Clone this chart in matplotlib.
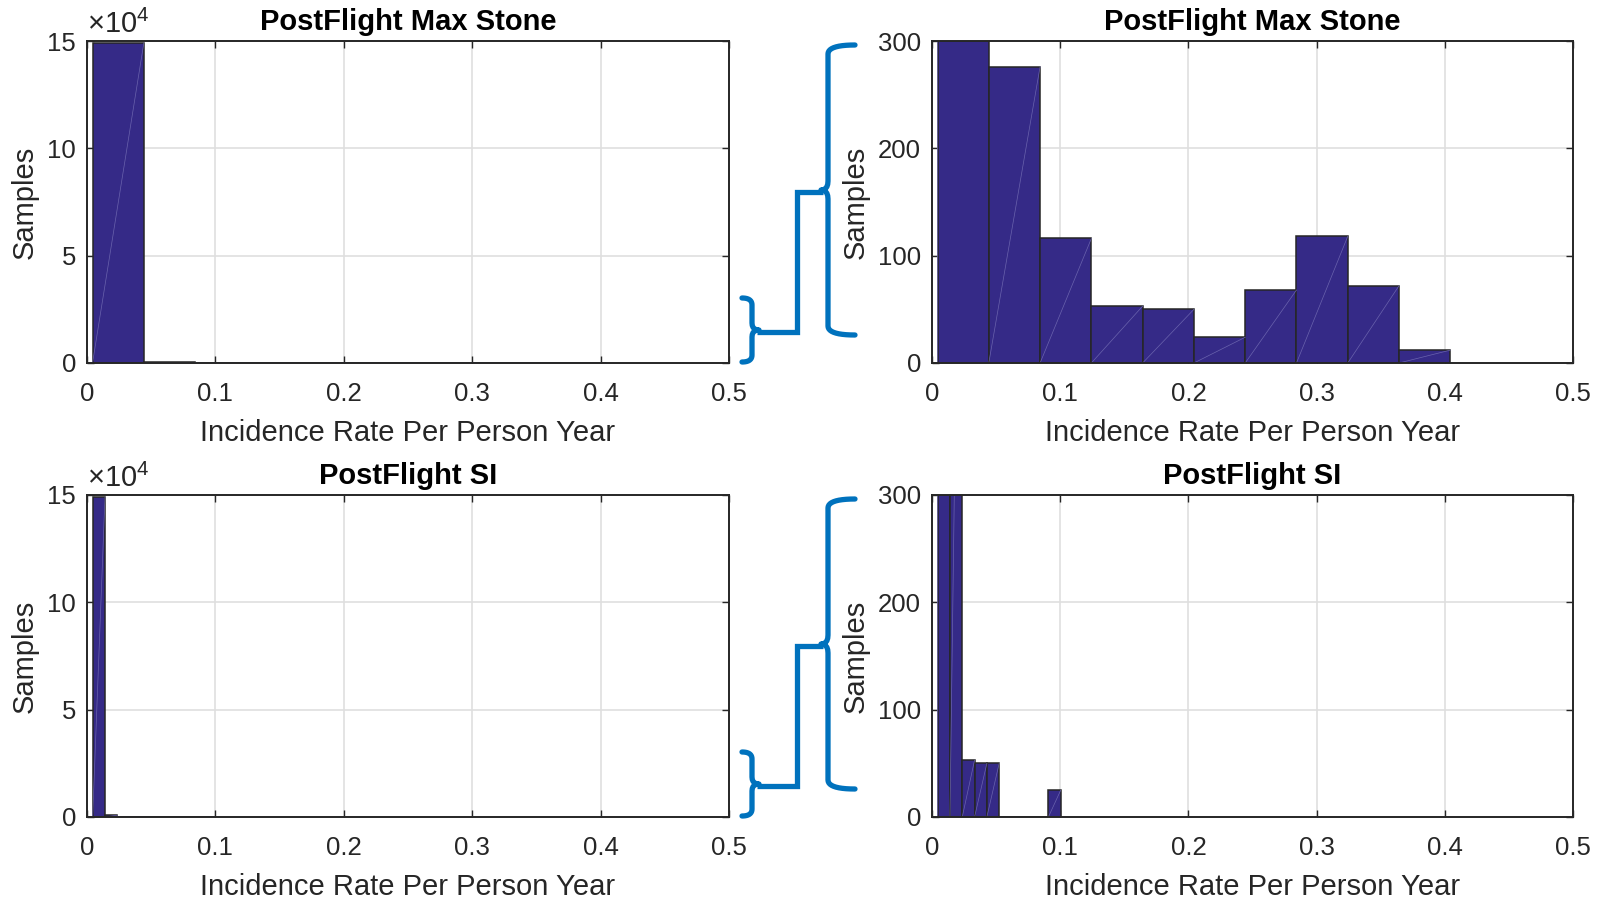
import numpy as np
import matplotlib
matplotlib.use('Agg')
from matplotlib import pyplot as plt
from matplotlib.lines import Line2D

# histogram counts (150000 samples per run)
stone_counts = [149211, 276, 116, 53, 50, 24, 68, 118, 72, 12]
stone_start = 0.0043
stone_width = 0.04

si_counts = [148972, 850, 53, 50, 50, 0, 0, 0, 0, 25]
si_start = 0.0044
si_width = 0.0096

titles = ['PostFlight Max Stone', 'PostFlight SI']
x_ticks = [0, 0.1, 0.2, 0.3, 0.4, 0.5]
x_tick_labels = ['0', '0.1', '0.2', '0.3', '0.4', '0.5']
full_ticks = [0, 5e4, 10e4, 15e4]
full_tick_labels = ['0', '5', '10', '15']
zoom_ticks = [0, 100, 200, 300]

plt.rcParams['font.family'] = ['Liberation Sans', 'DejaVu Sans']
plt.rcParams['mathtext.fontset'] = 'custom'
plt.rcParams['mathtext.rm'] = 'Liberation Sans'
plt.rcParams['mathtext.it'] = 'Liberation Sans'

W, H = 1604, 899
BAR = '#352a87'
EDGE = '#262626'
BLUE = '#0072bd'


def draw_hist(ax, counts, start, width, ymax, yticks, ylabels, title):
	edges = start + width * np.arange(len(counts) + 1)
	ax.bar(edges[:-1], counts, width=width, align='edge', color=BAR,
		edgecolor=EDGE, linewidth=1.1, zorder=3)
	# faint triangulation seams inside each bar
	for left, right, c in zip(edges[:-1], edges[1:], counts):
		if c > 0:
			ax.plot([left, right], [0, c], color='#6a63ad', lw=0.5, zorder=4)
	ax.set_xlim(0, 0.5)
	ax.set_ylim(0, ymax)
	ax.set_xticks(x_ticks)
	ax.set_xticklabels(x_tick_labels)
	ax.set_yticks(yticks)
	ax.set_yticklabels(ylabels)
	ax.grid(True, color='#dfdfdf', lw=1.2, zorder=0)
	ax.set_axisbelow(True)
	ax.tick_params(direction='in', length=5, width=1.0, color=EDGE,
		top=True, right=True, labelsize=18.5, labelcolor='#262626')
	ax.tick_params(axis='x', pad=14)
	ax.tick_params(axis='y', pad=8)
	for s in ax.spines.values():
		s.set_color(EDGE)
		s.set_linewidth(1.4)
		s.set_zorder(5)
	ax.set_xlabel('Incidence Rate Per Person Year', fontsize=21, labelpad=9, color='#262626')
	ax.set_ylabel('Samples', fontsize=21, labelpad=6, color='#262626')
	ax.set_title(title, fontsize=21, fontweight='bold', pad=8)


def bezier(p0, c, p1, n=12):
	t = np.linspace(0, 1, n)[:, None]
	p0, c, p1 = map(np.array, (p0, c, p1))
	return (1 - t) ** 2 * p0 + 2 * (1 - t) * t * c + t ** 2 * p1


def brace(fig, xs, y0, y1, arm, tip, r):
	ym = (y0 + y1) / 2
	pts = [
		bezier((arm, y0), (xs, y0), (xs, y0 + r)),
		bezier((xs, ym - r), (xs, ym), (tip, ym), 6),
		bezier((tip, ym), (xs, ym), (xs, ym + r), 6),
		bezier((xs, y1 - r), (xs, y1), (arm, y1)),
	]
	pts = np.vstack(pts)
	fx = pts[:, 0] / W
	fy = 1 - pts[:, 1] / H
	fig.add_artist(Line2D(fx, fy, color=BLUE, lw=3.8, solid_capstyle='round',
		solid_joinstyle='round'))


def connector(fig, xa, ya, xm, yb, xb):
	xs = np.array([xa, xm, xm, xb]) / W
	ys = 1 - np.array([ya, ya, yb, yb]) / H
	fig.add_artist(Line2D(xs, ys, color=BLUE, lw=3.8, solid_joinstyle='miter',
		solid_capstyle='butt'))


def main():
	fig = plt.figure(figsize=(W / 100, H / 100), dpi=100)
	rows = [(41, stone_counts, stone_start, stone_width, titles[0]),
		(495, si_counts, si_start, si_width, titles[1])]
	for top, counts, start, width, title in rows:
		h = 322
		b = 1 - (top + h) / H
		ax1 = fig.add_axes([87 / W, b, 642 / W, h / H])
		draw_hist(ax1, counts, start, width, 15e4, full_ticks, full_tick_labels, title)
		ax1.text(0.0, 1.005, r'$\times10^{4}$', transform=ax1.transAxes,
			fontsize=21, ha='left', va='bottom', color='#262626')
		ax2 = fig.add_axes([932 / W, b, 641 / W, h / H])
		draw_hist(ax2, counts, start, width, 300, zoom_ticks,
			[str(t) for t in zoom_ticks], title)

		off = top - 41
		brace(fig, 752, 298 + off, 362 + off, 742, 759, 7)
		connector(fig, 757, 332 + off, 797, 192 + off, 823)
		brace(fig, 828, 45 + off, 335 + off, 855, 821, 9)

	fig.savefig('out.png', dpi=100)


if __name__ == '__main__':
	main()
